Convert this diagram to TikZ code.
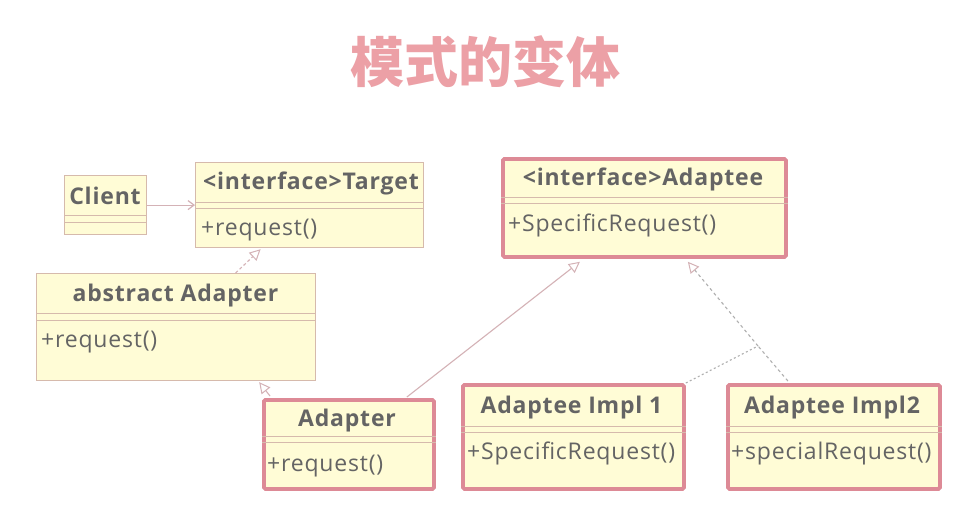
\documentclass[tikz,border=0pt]{standalone}
\usepackage{fontspec}
\setmainfont{Open Sans}[LetterSpace=3.5]
\newfontfamily\cjk{Noto Sans CJK SC}
\usetikzlibrary{arrows.meta,calc}
\definecolor{boxfill}{RGB}{255,252,214}
\definecolor{thinb}{RGB}{214,186,172}
\definecolor{thickb}{RGB}{221,138,150}
\definecolor{txt}{RGB}{100,100,100}
\definecolor{conn}{RGB}{212,178,182}
\definecolor{dashc}{RGB}{175,175,175}
\definecolor{titlec}{RGB}{236,160,166}
\tikzset{
  cls/.style={draw=thinb, line width=1.2pt, fill=boxfill, rectangle, anchor=north west, inner sep=0pt},
  clsthick/.style={draw=thickb, line width=3.8pt, fill=boxfill, rectangle, anchor=north west, inner sep=0pt, rounded corners=1.5pt},
  sepline/.style={draw=thinb, line width=1pt},
  nametext/.style={text=txt, font=\fontsize{23}{26}\selectfont\bfseries, inner sep=0pt},
  methtext/.style={text=txt, font=\fontsize{23}{26}\selectfont, inner sep=0pt, anchor=west},
  hollow/.style={-{Triangle[open, length=11pt, width=11pt, line width=1pt]}},
  assoc/.style={draw=conn, line width=1.2pt, -{Straight Barb[length=6pt, width=9pt]}},
  realize/.style={draw=conn, line width=1.1pt, hollow},
  dashrel/.style={draw=dashc, line width=1.1pt, dash pattern=on 3pt off 3pt},
}
\begin{document}
\begin{tikzpicture}[x=1pt,y=-1pt]
\useasboundingbox (0,0) rectangle (956,515);
\fill[white] (0,0) rectangle (956,515);
% title
\node[text=titlec, font=\cjk\fontsize{54}{60}\selectfont\bfseries, inner sep=0pt] (title) at (485,62) {模式的变体};
% Client
\node[cls, minimum width=82pt, minimum height=59pt] (client) at (64,175) {};
\draw[sepline] (client.west |- 0,215) -- (client.east |- 0,215);
\draw[sepline] (client.west |- 0,222) -- (client.east |- 0,222);
\node[nametext] (clientn) at (105,196) {Client};
% Target
\node[cls, minimum width=228pt, minimum height=85pt] (target) at (195,162) {};
\draw[sepline] (target.west |- 0,202) -- (target.east |- 0,202);
\draw[sepline] (target.west |- 0,208) -- (target.east |- 0,208);
\node[nametext] (targetn) at (311,183.5) {<interface>Target};
\node[methtext] (targetm) at (201,230.5) {+request()};
% abstract Adapter
\node[cls, minimum width=279pt, minimum height=107pt] (abs) at (36,273) {};
\draw[sepline] (abs.west |- 0,313) -- (abs.east |- 0,313);
\draw[sepline] (abs.west |- 0,320) -- (abs.east |- 0,320);
\node[nametext] (absn) at (175.5,295.5) {abstract Adapter};
\node[methtext] (absm) at (41,342.5) {+request()};
% interface Adaptee
\node[clsthick, minimum width=283pt, minimum height=98pt] (adaptee) at (501,157) {};
\draw[sepline] (adaptee.west |- 0,197) -- (adaptee.east |- 0,197);
\draw[sepline] (adaptee.west |- 0,203) -- (adaptee.east |- 0,203);
\node[nametext] (adapteen) at (643,179.5) {<interface>Adaptee};
\node[methtext] (adapteem) at (508,225.5) {+SpecificRequest()};
% Adapter
\node[clsthick, minimum width=170pt, minimum height=89pt] (adapter) at (262,398) {};
\draw[sepline] (adapter.west |- 0,436) -- (adapter.east |- 0,436);
\draw[sepline] (adapter.west |- 0,442) -- (adapter.east |- 0,442);
\node[nametext] (adaptern) at (347,420.5) {Adapter};
\node[methtext] (adapterm) at (267,466.5) {+request()};
% Adaptee Impl 1
\node[clsthick, minimum width=221pt, minimum height=104pt] (impla) at (461,383) {};
\draw[sepline] (impla.west |- 0,426) -- (impla.east |- 0,426);
\draw[sepline] (impla.west |- 0,432) -- (impla.east |- 0,432);
\node[nametext] (implan) at (571.5,407.5) {Adaptee Impl 1};
\node[methtext] (implam) at (467,453.5) {+SpecificRequest()};
% Adaptee Impl2
\node[clsthick, minimum width=212pt, minimum height=104pt] (implb) at (726,383) {};
\draw[sepline] (implb.west |- 0,426) -- (implb.east |- 0,426);
\draw[sepline] (implb.west |- 0,432) -- (implb.east |- 0,432);
\node[nametext] (implbn) at (832,407.5) {Adaptee Impl2};
\node[methtext] (implbm) at (731,453.5) {+specialRequest()};
% connectors
\draw[assoc] (client) -- (target.west |- client);
\draw[realize, dash pattern=on 3pt off 2.5pt] ([xshift=59.5pt]abs.north) -- ([xshift=-49pt,yshift=-1pt]target.south);
\draw[realize] ([xshift=8pt,yshift=2pt]adapter.north west) -- ([xshift=-57pt,yshift=-1pt]abs.south east);
\draw[realize] ([xshift=58pt,yshift=1pt]adapter.north) -- ([xshift=-64.5pt,yshift=-3pt]adaptee.south);
\coordinate (junc) at (758,346);
\draw[dashrel, dash pattern=on 2pt off 2.5pt] (impla.north east) -- (junc);
\draw[dashrel] ([xshift=-46pt,yshift=2pt]implb.north) -- (junc);
\draw[dashrel, -{Triangle[open, length=11pt, width=11pt, line width=1pt, color=conn]}] (junc) -- ([xshift=43.5pt,yshift=-3pt]adaptee.south);
\end{tikzpicture}
\end{document}
